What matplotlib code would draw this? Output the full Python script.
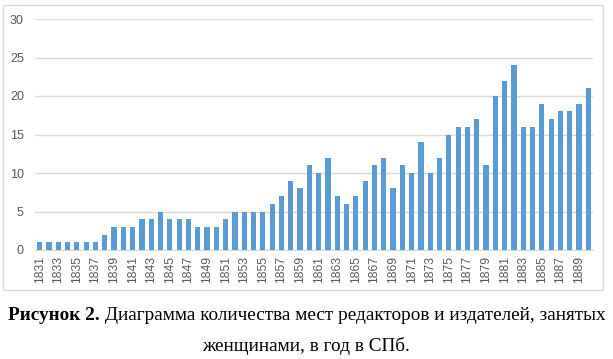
import matplotlib
matplotlib.use("Agg")
import matplotlib.pyplot as plt
from matplotlib.patches import Rectangle

years = list(range(1831, 1891))
values = [1, 1, 1, 1, 1, 1, 1, 2, 3, 3,
          3, 4, 4, 5, 4, 4, 4, 3, 3, 3,
          4, 5, 5, 5, 5, 6, 7, 9, 8, 11,
          10, 12, 7, 6, 7, 9, 11, 12, 8, 11,
          10, 14, 10, 12, 15, 16, 16, 17, 11, 20,
          22, 24, 16, 16, 19, 17, 18, 18, 19, 21]
yticks = [0, 5, 10, 15, 20, 25, 30]
caption_bold = "Рисунок 2."
caption_rest1 = " Диаграмма количества мест редакторов и издателей, занятых"
caption_line2 = "женщинами, в год в СПб."

W, H = 613, 359
fig = plt.figure(figsize=(W / 100, H / 100), dpi=100)
fig.patch.set_facecolor("white")

# chart border
fig.add_artist(Rectangle((3 / W, 1 - 290 / H), 600 / W, 285 / H,
                         transform=fig.transFigure, fill=False,
                         edgecolor="#d9d9d9", linewidth=1))

ax = fig.add_axes([35 / W, 1 - 250 / H, 558 / W, 231 / H])
x = list(range(len(years)))
ax.bar(x, values, width=0.55, color="#5B9BD5", zorder=3)
ax.set_xlim(-0.5, len(years) - 0.5)
ax.set_ylim(0, 30)
ax.set_yticks(yticks)
ax.set_yticklabels([str(v) for v in yticks], fontsize=9, color="#595959",
                   family="Liberation Sans")
ax.set_xticks(x[::2])
ax.set_xticklabels([str(y) for y in years[::2]], rotation=90, fontsize=8.7,
                   color="#595959", family="Liberation Sans")
ax.tick_params(axis="both", length=0, pad=4)
ax.tick_params(axis="y", pad=8)
ax.grid(axis="y", color="#d9d9d9", linewidth=1, zorder=0)
for s in ["top", "right", "left"]:
    ax.spines[s].set_visible(False)
ax.spines["bottom"].set_color("#d9d9d9")

# caption
fig.canvas.draw()
r = fig.canvas.get_renderer()
fs = 13.9
tb = fig.text(0, 0, caption_bold, fontsize=fs, fontweight="bold", family="Liberation Serif")
tr = fig.text(0, 0, caption_rest1, fontsize=fs, family="Liberation Serif")
wb = tb.get_window_extent(r).width
wr = tr.get_window_extent(r).width
x0 = (W / 2 - (wb + wr) / 2) / W
y1 = 1 - 320 / H
tb.set_position((x0, y1))
tr.set_position((x0 + wb / W, y1))
fig.text(0.5, 1 - 351 / H, caption_line2, fontsize=fs, ha="center",
         family="Liberation Serif")

fig.savefig("out.png", dpi=100)
